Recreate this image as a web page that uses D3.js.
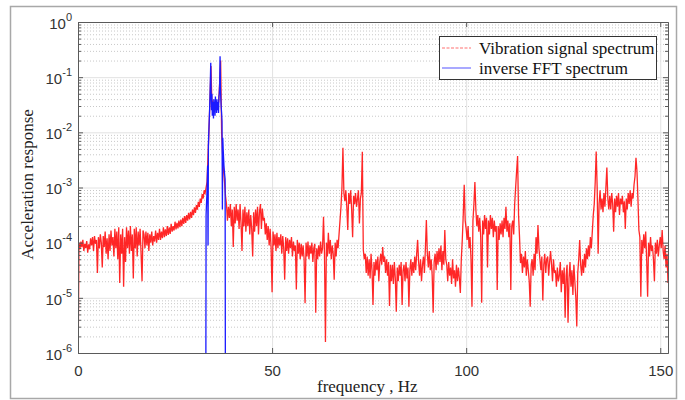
<!DOCTYPE html>
<html>
<head>
<meta charset="utf-8">
<script src="https://cdn.jsdelivr.net/npm/d3@7"></script>
<style>
  body { margin: 0; background: #fff; }
  svg { display: block; }
</style>
</head>
<body>
<svg id="chart" width="685" height="400"></svg>
<script>
// Vibration signal spectrum, log10 of acceleration response, sampled every 0.25 Hz
const vibStepHz = 0.25;
const vibLog_0to50 = [
  -6.5, -4.0, -4.12, -3.98,   -4.08, -3.95, -4.15, -4.02,   -4.1, -3.97, -4.18, -4.03,
  -4.12, -3.92, -4.05, -3.9,  -4.15, -3.88, -4.02, -3.95,   -4.55, -3.9, -4.1, -3.85,
  -4.0, -4.45, -3.88, -4.08,  -3.8, -4.2, -3.92, -4.3,      -3.85, -4.15, -3.78, -4.05,
  -3.9, -4.25, -3.75, -4.1,   -3.8, -4.3, -3.72, -4.73,     -3.85, -4.2, -3.75, -4.8,
  -3.9, -4.35, -3.72, -4.1,   -3.78, -4.2, -3.7, -4.15,     -3.85, -4.65, -3.75, -4.1,
  -3.72, -4.25, -3.8, -4.05,  -3.75, -4.2, -4.7, -3.78,     -3.85, -4.1, -3.8, -4.05,
  -3.82, -4.15, -3.85, -4.0,  -3.8, -4.05, -3.88, -3.98,    -3.78, -4.0, -3.82, -3.95,
  -3.75, -3.95, -3.8, -3.92,  -3.72, -3.9, -3.76, -3.88,    -3.7, -3.86, -3.72, -3.84,
  -3.66, -3.8, -3.7, -3.78,   -3.62, -3.76, -3.64, -3.74,   -3.6, -3.72, -3.58, -3.7,
  -3.55, -3.66, -3.52, -3.64, -3.5, -3.6, -3.46, -3.58,     -3.44, -3.55, -3.4, -3.5,
  -3.36, -3.46, -3.32, -3.4,  -3.26, -3.35, -3.2, -3.28,    -3.12, -3.2, -3.05, -3.1,
  -3.0, -2.9, -2.4, -1.95,    -1.4, -0.8, -1.5, -1.45,      -1.55, -1.5, -1.45, -1.55,
  -1.5, -1.45, -1.1, -0.7,    -2.0, -2.4, -2.7, -2.9,       -3.15, -3.3, -3.6, -3.35,
  -3.55, -3.3, -3.7, -3.4,    -4.08, -3.35, -3.65, -3.3,    -3.6, -3.4, -3.75, -3.3,
  -3.65, -4.15, -3.4, -3.7,   -3.35, -3.8, -3.45, -3.7,     -3.4, -3.85, -3.5, -3.75,
  -4.25, -3.45, -3.8, -3.4,   -3.7, -3.35, -3.85, -3.45,    -3.3, -3.75, -3.38, -3.6,
  -3.55, -3.85, -3.65, -3.95, -3.7, -4.05, -3.75, -4.1
];
const vibLog_50to100 = [
  -4.9, -3.8, -4.05, -3.85,   -4.15, -3.82, -4.1, -3.9,     -4.05, -3.85, -4.2, -3.88,
  -4.1, -4.67, -3.9, -4.15,   -3.92, -4.2, -3.95, -4.1,     -3.9, -4.25, -3.98, -4.15,
  -4.05, -4.85, -3.95, -4.2,  -4.0, -4.3, -4.02, -4.25,     -4.05, -4.3, -5.1, -4.0,
  -4.25, -3.98, -4.3, -4.05,  -4.2, -4.0, -4.35, -4.1,      -4.02, -5.27, -4.1, -4.3,
  -4.05, -4.25, -3.98, -4.2,  -4.1, -3.53, -4.2, -5.8,      -4.0, -4.25, -3.82, -4.2,
  -3.95, -4.3, -4.05, -4.2,   -4.67, -4.0, -4.25, -3.95,    -4.1, -3.85, -3.6, -3.35,
  -3.0, -2.28, -3.1, -3.25,   -3.05, -3.35, -3.77, -3.1,    -3.3, -3.05, -3.4, -3.9,
  -3.15, -3.3, -3.1, -3.35,   -3.2, -3.05, -3.65, -3.2,     -3.1, -2.35, -4.13, -4.3,
  -4.2, -4.55, -4.25, -4.6,   -4.3, -4.65, -4.2, -4.5,      -5.13, -4.35, -4.6, -4.3,
  -4.5, -4.25, -4.7, -4.35,   -4.2, -4.4, -4.08, -4.35,     -4.25, -4.55, -4.3, -4.6,
  -4.35, -5.15, -4.4, -4.7,   -4.4, -4.75, -4.35, -4.65,    -5.25, -4.45, -4.7, -4.4,
  -4.6, -4.35, -5.13, -4.5,   -4.4, -4.7, -4.35, -4.65,     -4.45, -5.16, -4.5, -4.3,
  -4.6, -4.35, -4.55, -4.25,  -4.5, -4.2, -3.95, -4.35,     -4.6, -4.3, -4.7, -4.4,
  -4.25, -4.55, -4.1, -3.59,  -4.2, -4.45, -4.15, -4.5,     -4.3, -4.6, -5.27, -4.35,
  -4.2, -4.5, -4.15, -4.4,    -4.1, -4.35, -4.05, -4.5,     -4.15, -4.4, -3.77, -4.3,
  -4.4, -4.7, -4.35, -4.6,    -4.45, -4.75, -4.3, -4.65,    -4.5, -4.8, -4.4, -4.7,
  -4.45, -4.65, -4.91, -4.3,  -3.95, -3.5, -2.95, -3.6
];
const vibLog_100to152 = [
  -3.75, -3.95, -3.7, -4.1,   -3.9, -4.3, -5.16, -3.6,      -3.3, -2.9, -3.4, -3.7,
  -3.5, -3.8, -3.55, -3.9,    -5.09, -3.6, -3.85, -3.5,     -3.75, -3.55, -4.45, -3.6,
  -3.85, -3.5, -3.75, -3.55,  -3.9, -3.6, -3.8, -3.7,       -4.86, -3.7, -3.95, -3.65,
  -3.85, -3.6, -3.9, -3.55,   -3.75, -3.35, -3.8, -3.6,     -3.9, -3.65, -4.86, -3.7,
  -3.6, -3.85, -3.3, -3.0,    -2.7, -2.43, -3.5, -3.9,      -4.37, -4.2, -4.55, -4.25,
  -4.45, -4.15, -4.6, -4.3,   -4.5, -4.7, -5.16, -4.4,      -4.3, -4.6, -4.2, -4.5,
  -3.9, -4.2, -3.68, -4.1,    -4.3, -4.5, -4.25, -5.05,     -4.4, -4.2, -4.55, -4.3,
  -4.25, -4.6, -4.35, -4.15,  -4.4, -4.7, -4.3, -4.55,      -4.5, -4.8, -4.45, -4.7,
  -4.6, -4.35, -4.9, -4.5,    -4.75, -4.45, -5.36, -4.6,    -4.4, -5.45, -4.65, -4.35,
  -4.8, -4.5, -4.95, -4.4,    -4.7, -5.0, -5.52, -4.55,     -4.3, -3.95, -4.4, -4.6,
  -4.3, -4.55, -4.2, -4.45,   -4.1, -4.3, -4.05, -4.25,     -3.9, -4.1, -3.8, -3.5,
  -3.3, -2.9, -2.35, -3.0,    -4.2, -3.3, -3.05, -3.4,      -3.2, -3.45, -3.1, -3.35,
  -3.0, -2.64, -3.2, -3.4,    -3.15, -3.4, -3.1, -3.3,      -3.8, -3.2, -3.45, -3.15,
  -3.35, -3.1, -3.5, -3.2,    -3.3, -3.15, -3.45, -3.25,    -3.75, -3.2, -3.4, -3.1,
  -3.3, -3.05, -3.35, -3.1,   -3.2, -2.95, -2.8, -2.46,     -2.7, -3.2, -3.77, -3.9,
  -4.98, -3.95, -4.2, -3.85,  -4.1, -3.8, -4.3, -4.98,      -4.0, -4.25, -3.9, -4.15,
  -4.05, -4.3, -4.7, -4.0,    -4.2, -3.95, -4.25, -4.05,    -3.9, -4.1, -3.77, -4.15,
  -4.3, -4.05, -4.45, -4.2,   -4.73
];

// Inverse FFT spectrum (band 33-38 Hz), log10 values every 0.1 Hz from 32.9 Hz
const fftStartHz = 32.9;
const fftStepHz = 0.1;
const fftLog = [
  -8, -3.5, -3.3, -3.15, -2.9, -2.6, -4.05, -2.25, -2.0, -1.8,
  -1.6, -1.35, -1.05, -0.74, -1.35, -1.6, -1.3, -1.7, -1.45, -1.55,
  -1.75, -1.4, -1.6, -1.45, -1.7, -1.35, -1.55, -1.45, -1.65, -1.4,
  -1.6, -1.45, -1.5, -1.65, -1.35, -1.3, -1.1, -0.62, -1.2, -1.4,
  -1.55, -1.65, -1.8, -3.4, -2.1, -2.3, -2.45, -2.6, -2.7, -2.78,
  -2.85, -8
];

const xTicks = [0, 50, 100, 150];
const yDecadeExponents = [0, -1, -2, -3, -4, -5, -6];
const seriesNames = ["Vibration signal spectrum", "inverse FFT spectrum"];
const xLabel = "frequency , Hz";
const yLabel = "Acceleration response";

const vibration = vibLog_0to50.concat(vibLog_50to100, vibLog_100to152)
  .map((l, i) => ({ f: i * vibStepHz, v: Math.pow(10, l) }));
const inverseFft = fftLog.map((l, i) => ({ f: fftStartHz + i * fftStepHz, v: Math.pow(10, l) }));

const svg = d3.select("#chart");
const L = 78, R = 668, T = 22, B = 353;

const x = d3.scaleLinear().domain([0, 152]).range([L, R]);
const y = d3.scaleLog().domain([1e-6, 1]).range([B, T]);

// outer frame
svg.append("rect").attr("x", 10.5).attr("y", 6.5).attr("width", 666).attr("height", 392)
  .attr("fill", "#fff").attr("stroke", "#a8a8a8").attr("stroke-width", 1.5);

svg.append("defs").append("clipPath").attr("id", "plotClip")
  .append("rect").attr("x", L).attr("y", T).attr("width", R - L).attr("height", B - T);

// grid
const allY = y.ticks();
const isMajor = d => Math.abs(Math.log10(d) - Math.round(Math.log10(d))) < 1e-9;
const grid = svg.append("g");
grid.selectAll("line.minor").data(allY.filter(d => !isMajor(d))).join("line")
  .attr("x1", L).attr("x2", R).attr("y1", d => y(d) + 0.5).attr("y2", d => y(d) + 0.5)
  .attr("stroke", "#c8c8c8").attr("stroke-dasharray", "1,2").attr("stroke-width", 1);
grid.selectAll("line.majorY").data(allY.filter(isMajor)).join("line")
  .attr("x1", L).attr("x2", R).attr("y1", d => y(d) + 0.5).attr("y2", d => y(d) + 0.5)
  .attr("stroke", "#e2e2e2").attr("stroke-width", 1);
grid.selectAll("line.majorX").data(xTicks).join("line")
  .attr("x1", d => x(d) + 0.5).attr("x2", d => x(d) + 0.5).attr("y1", T).attr("y2", B)
  .attr("stroke", "#e2e2e2").attr("stroke-width", 1);

// series
const line = d3.line().x(d => x(d.f)).y(d => y(d.v));
const plot = svg.append("g").attr("clip-path", "url(#plotClip)");
plot.append("path").datum(vibration).attr("d", line)
  .attr("fill", "none").attr("stroke", "#ff1010").attr("stroke-width", 1.3).attr("stroke-opacity", 0.9);
plot.append("path").datum(inverseFft).attr("d", line)
  .attr("fill", "none").attr("stroke", "#1a1aff").attr("stroke-width", 1.3);

// axes
const axisColor = "#5a5a5a";
function styleAxis(g) {
  g.select(".domain").attr("stroke", axisColor);
  g.selectAll(".tick line").attr("stroke", axisColor);
  g.selectAll(".tick text").attr("fill", "#333").attr("font-family", "Liberation Sans, Arial, sans-serif").attr("font-size", 15);
}
const majorY = yDecadeExponents.map(e => Math.pow(10, e));
const minorY = allY.filter(d => !isMajor(d));

const yAxisL = svg.append("g").attr("transform", `translate(${L},0)`)
  .call(d3.axisLeft(y).tickValues(majorY).tickSize(-5).tickSizeOuter(0).tickPadding(6))
  .call(styleAxis);
yAxisL.selectAll(".tick text").each(function (d) {
  const t = d3.select(this).text(null).attr("dy", "0.42em");
  t.append("tspan").text("10");
  t.append("tspan").attr("dy", -8).attr("font-size", 11).text(Math.round(Math.log10(d)));
});
svg.append("g").attr("transform", `translate(${L},0)`)
  .call(d3.axisLeft(y).tickValues(minorY).tickSize(-3).tickFormat(() => "").tickSizeOuter(0))
  .call(styleAxis);
svg.append("g").attr("transform", `translate(${R},0)`)
  .call(d3.axisRight(y).tickValues(majorY).tickSize(-5).tickFormat(() => "").tickSizeOuter(0))
  .call(styleAxis);
svg.append("g").attr("transform", `translate(${R},0)`)
  .call(d3.axisRight(y).tickValues(minorY).tickSize(-3).tickFormat(() => "").tickSizeOuter(0))
  .call(styleAxis);
svg.append("g").attr("transform", `translate(0,${B})`)
  .call(d3.axisBottom(x).tickValues(xTicks).tickSize(-5).tickSizeOuter(0).tickPadding(12))
  .call(styleAxis);
svg.append("g").attr("transform", `translate(0,${T})`)
  .call(d3.axisTop(x).tickValues(xTicks).tickSize(-5).tickFormat(() => "").tickSizeOuter(0))
  .call(styleAxis);

// axis titles
svg.append("text").attr("x", 317).attr("y", 392)
  .attr("font-family", "Liberation Serif, Times New Roman, serif").attr("font-size", 17)
  .attr("fill", "#222").style("white-space", "pre").text(xLabel);
svg.append("text").attr("transform", `translate(33,${(T + B) / 2 - 3}) rotate(-90)`)
  .attr("text-anchor", "middle")
  .attr("font-family", "Liberation Serif, Times New Roman, serif").attr("font-size", 17)
  .attr("fill", "#222").text(yLabel);

// legend
const lg = svg.append("g");
lg.append("rect").attr("x", 439.5).attr("y", 36.5).attr("width", 217).attr("height", 43)
  .attr("fill", "#fff").attr("stroke", "#333").attr("stroke-width", 1);
const legendRows = [
  { name: seriesNames[0], color: "#ff4040", dash: "3,1.5", y: 48 },
  { name: seriesNames[1], color: "#4040ff", dash: null, y: 68 }
];
legendRows.forEach(r => {
  lg.append("line").attr("x1", 442).attr("x2", 471).attr("y1", r.y).attr("y2", r.y)
    .attr("stroke", r.color).attr("stroke-width", 1.2).attr("stroke-opacity", 0.75)
    .attr("stroke-dasharray", r.dash);
  lg.append("text").attr("x", 479).attr("y", r.y + 6)
    .attr("font-family", "Liberation Serif, Times New Roman, serif").attr("font-size", 17)
    .attr("fill", "#111").text(r.name);
});
</script>
</body>
</html>
